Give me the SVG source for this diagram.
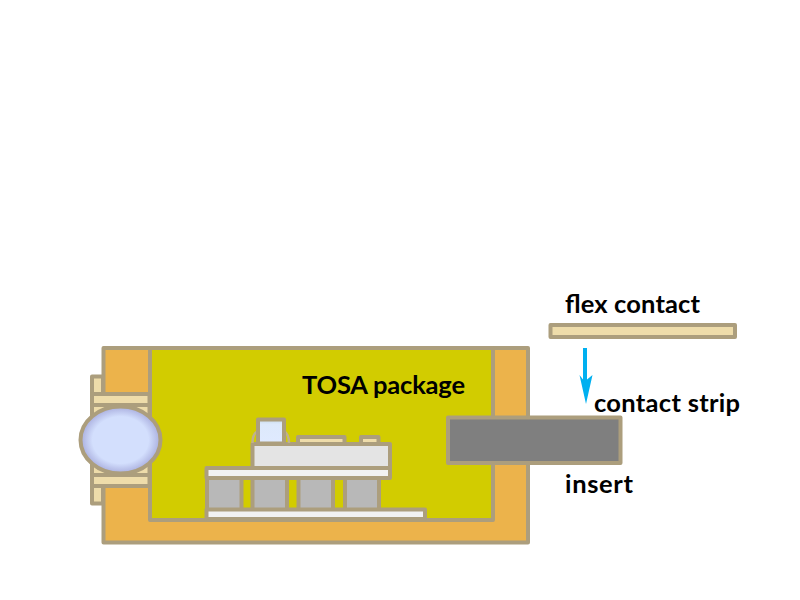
<svg xmlns="http://www.w3.org/2000/svg" width="800" height="600" viewBox="0 0 800 600">
<style>
.s{stroke:#ac9e7d;stroke-width:4;stroke-linejoin:round}
.c{fill:#eedcaa}.w{fill:#f2f2f2}.g{fill:#b8b8b8}
text{font-family:Lato,"Liberation Sans",sans-serif;font-weight:700;font-size:25.5px;fill:#000}
</style>
<defs>
<radialGradient id="lens" cx="50%" cy="50%" r="50%"><stop offset="0.7" stop-color="#d3dffd"/><stop offset="1" stop-color="#a9aede"/></radialGradient>
<linearGradient id="win" x1="0" y1="0" x2="0" y2="1"><stop offset="0" stop-color="#c9dbe8"/><stop offset="0.2" stop-color="#dde9fb"/><stop offset="1" stop-color="#dfeaff"/></linearGradient>
</defs>
<g id="package">
<rect class="s" x="103.500" y="348" width="424.500" height="194.500" fill="#ecb34b"/>
<rect class="s" x="150" y="348" width="343" height="172" fill="#d2cc00"/>
</g>
<g id="feedthrough">
<rect class="s c" x="92" y="376.500" width="11" height="127"/>
<rect class="s c" x="92" y="394" width="57.500" height="11"/>
<rect class="s c" x="92" y="405" width="57.500" height="70"/>
<rect class="s c" x="92" y="475" width="57.500" height="11"/>
</g>
<g id="lens-node"><ellipse class="s" cx="120.500" cy="440" rx="40" ry="33.500" fill="url(#lens)"/></g>
<g id="bench">
<rect class="s g" x="207" y="478" width="34.500" height="32"/>
<rect class="s g" x="252.500" y="478" width="34.500" height="32"/>
<rect class="s g" x="298.500" y="478" width="34.500" height="32"/>
<rect class="s g" x="345" y="478" width="34" height="32"/>
<rect class="s w" x="206.500" y="509.500" width="218.500" height="9.500"/>
<rect class="s w" x="206.500" y="468" width="183.500" height="10"/>
<rect class="s" x="252.500" y="444" width="137.500" height="24" fill="#e4e4e4"/>
<path d="M252.500 443 C252.500 436 254 433 258 431 M289 443 C289 436 287 433 284 431" fill="none" stroke="#bfb18c" stroke-width="2.500"/>
<rect class="s" x="258" y="419.500" width="26" height="24" fill="url(#win)"/>
<rect class="s c" x="298" y="437" width="46.500" height="7"/>
<rect class="s c" x="361" y="437" width="17.500" height="7"/>
</g>
<g id="insert"><rect class="s" x="448" y="417.500" width="172.500" height="45.500" fill="#7f7f7f"/></g>
<g id="flex"><rect class="s c" x="550.500" y="325" width="184.500" height="12"/></g>
<g id="connectors">
<path d="M583 348h4v31.500l5.500-4.500-6.500 29-6.500-29 3.500 4.500z" fill="#00b0f0"/>
</g>
<text x="302" y="393.500" textLength="163">TOSA package</text>
<text x="565" y="312.500" textLength="135">flex contact</text>
<text x="594" y="412" textLength="146">contact strip</text>
<text x="565" y="493" textLength="68">insert</text>
</svg>
